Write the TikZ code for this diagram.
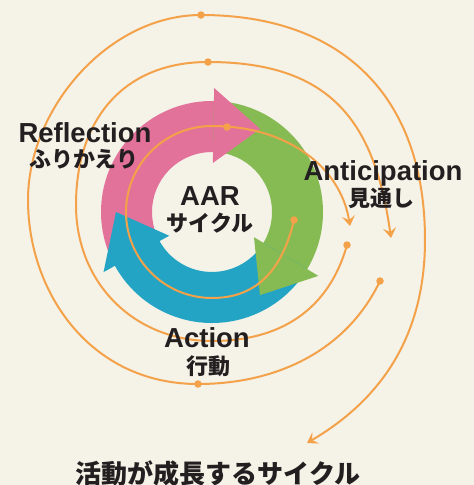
\documentclass[tikz,border=0pt]{standalone}
\usepackage{fontspec}
\setmainfont{Liberation Sans}
\newfontfamily\jp{Noto Sans CJK JP}
\usetikzlibrary{arrows.meta}
\definecolor{bg}{HTML}{F5F2E8}
\definecolor{pinkc}{HTML}{E3729A}
\definecolor{greenc}{HTML}{86BB53}
\definecolor{bluec}{HTML}{23A4C5}
\definecolor{orangec}{HTML}{F4A24A}
\definecolor{inkc}{HTML}{231F20}
% band: color, tail angle, end angle (1 deg into own head)
\newcommand\ringband[3]{\fill[#1] (#2:60) arc[start angle=#2, end angle=#3, radius=60] -- (#3:111) arc[start angle=#3, end angle=#2, radius=111] -- cycle;}
% head: color, base angle, tip angle
\newcommand\ringhead[3]{\fill[#1] (#2:49) -- (#2:124) -- (#3:96) -- cycle;}
\tikzset{
  orangeline/.style={draw=orangec, line width=2pt, line join=round},
  tipped/.style={-{Stealth[length=10pt, width=13pt, inset=4pt]}},
  dotnode/.style={circle, fill=orangec, inner sep=0pt, minimum size=7.5pt},
  latin/.style={text=inkc, font=\fontsize{27.5}{30}\selectfont\bfseries, inner sep=0pt, anchor=base},
  jpn/.style={text=inkc, font=\jp\fontsize{22}{24}\selectfont\bfseries, inner sep=0pt, anchor=base},
  title/.style={text=inkc, font=\jp\fontsize{26}{28}\selectfont\bfseries, inner sep=0pt, anchor=base},
}
\begin{document}
\begin{tikzpicture}[x=1pt, y=-1pt]
\fill[bg] (0,0) rectangle (474,485);
\useasboundingbox (0,0) rectangle (474,485);
% ring
\begin{scope}[shift={(212,212)}, yscale=-1]
  \ringband{pinkc}{209}{88}
  \ringband{greenc}{89}{-32}
  \ringband{bluec}{-31}{-152}
  \ringhead{pinkc}{89}{60}
  \ringhead{greenc}{-31}{-60}
  \ringhead{bluec}{-151}{-180}
\end{scope}
% curve anchor points
\coordinate (a0) at (294,220);
\coordinate (a1) at (227,127);
\coordinate (aE) at (350,226);
\coordinate (b0) at (347,245);
\coordinate (b1) at (208,62);
\coordinate (bE) at (391,238);
\coordinate (c0) at (380,281);
\coordinate (c1) at (198,384);
\coordinate (c2) at (201,15);
\coordinate (cE) at (307,443);
% spiral curves
\draw[orangeline, tipped] (a0) .. controls (283,267) and (259,298) .. (212,298)
  .. controls (164.5,298) and (126,259.5) .. (126,212)
  .. controls (126,164.5) and (164.5,126) .. (212,126)
  .. controls (287,126) and (340.4,166.6) .. (aE);
\draw[orangeline, tipped] (b0) .. controls (328.6,310.3) and (280,341) .. (212,341)
  .. controls (134,341) and (76,283) .. (76,205)
  .. controls (76,120) and (123,62) .. (b1)
  .. controls (333,62) and (374.9,124.2) .. (bE);
\draw[orangeline, tipped] (c0) .. controls (346.5,351.2) and (276,384) .. (c1)
  .. controls (90,384) and (28,292) .. (28,200)
  .. controls (28,108) and (109,15) .. (c2)
  .. controls (341,15) and (425,95) .. (425,240)
  .. controls (425,350) and (367.3,407.4) .. (cE);
% dots
\foreach \p in {a0,a1,b0,b1,c0,c1,c2} \node[dotnode] (d\p) at (\p) {};
% labels
\node[latin] (refl) at (85,142) {Reflection};
\node[jpn] (reflj) at (84,167) {ふりかえり};
\node[latin] (aar) at (210,205) {AAR};
\node[jpn] (aarj) at (210,231) {サイクル};
\node[latin] (anti) at (383,180) {Anticipation};
\node[jpn] (antij) at (381,206) {見通し};
\node[latin] (act) at (207,347) {Action};
\node[jpn] (actj) at (208,374) {行動};
\node[title] (ttl) at (218,483) {活動が成長するサイクル};
\end{tikzpicture}
\end{document}
